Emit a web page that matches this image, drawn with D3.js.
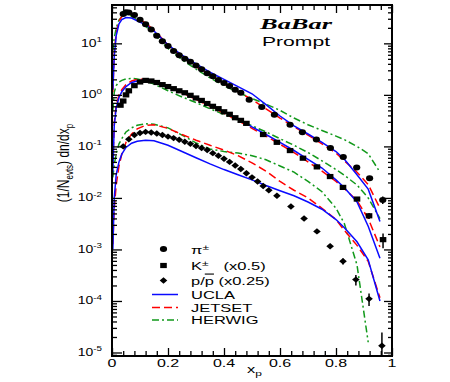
<!DOCTYPE html>
<html><head><meta charset="utf-8">
<script src="https://cdn.jsdelivr.net/npm/d3@7/dist/d3.min.js"></script>
<style>body{margin:0;background:#fff}svg{display:block}</style>
</head><body><svg id="c" width="450" height="382"></svg>
<script>
// ---------- data (values as plotted; K scaled x0.5, p scaled x0.25) ----------
const pionX = [0.04,0.05,0.06,0.08,0.10,0.12,0.14,0.16,0.18,0.20,0.22,0.24,0.26,0.28,0.30,0.32,0.34,0.36,0.38,0.40,0.42,0.44,0.46,0.49,0.535,0.58,0.636,0.68,0.73,0.78,0.826,0.874,0.92,0.967];
const pionY = [37.2,40,39.8,35.5,28.8,23.4,18.6,14.1,11.0,8.9,7.1,5.9,5.0,4.4,3.7,3.16,2.63,2.29,1.95,1.70,1.48,1.26,1.10,0.80,0.58,0.41,0.263,0.188,0.136,0.093,0.062,0.039,0.024,0.0091];
const pionErr = [0,0,0,0,0,0,0,0,0,0,0,0,0,0,0,0,0,0,0,0,0,0,0,0,0,0,0,0,0,0,0,0.002,0.002,0.0015];

const kaonX = [0.03,0.04,0.05,0.06,0.08,0.10,0.12,0.14,0.16,0.18,0.20,0.22,0.24,0.26,0.28,0.30,0.32,0.34,0.36,0.38,0.40,0.42,0.44,0.46,0.48,0.54,0.589,0.636,0.682,0.732,0.779,0.825,0.875,0.918,0.968];
const kaonY = [0.63,0.76,1.0,1.2,1.51,1.78,1.91,1.86,1.74,1.58,1.45,1.32,1.20,1.10,0.98,0.87,0.78,0.68,0.60,0.54,0.47,0.42,0.36,0.32,0.28,0.17,0.12,0.083,0.059,0.040,0.026,0.016,0.0095,0.0045,0.00155];
const kaonErr = [0,0,0,0,0,0,0,0,0,0,0,0,0,0,0,0,0,0,0,0,0,0,0,0,0,0,0,0,0,0,0,0,0,0.0006,0.0005];

const protonX = [0.04,0.06,0.08,0.10,0.12,0.14,0.16,0.18,0.20,0.22,0.24,0.26,0.28,0.30,0.32,0.34,0.36,0.38,0.40,0.42,0.44,0.46,0.48,0.50,0.52,0.54,0.56,0.589,0.639,0.686,0.732,0.779,0.825,0.871,0.918,0.964];
const protonY = [0.100,0.138,0.166,0.182,0.191,0.186,0.178,0.166,0.155,0.145,0.135,0.123,0.112,0.102,0.093,0.085,0.074,0.066,0.0575,0.050,0.0427,0.0363,0.0302,0.0251,0.0209,0.0170,0.0141,0.011,0.0068,0.0040,0.00224,0.00115,0.00059,0.00026,0.00011,0.0000135];
const protonErr = [0,0,0,0,0,0,0,0,0,0,0,0,0,0,0,0,0,0,0,0,0,0,0,0,0,0,0,0,0,0,0,0,0.00008,0.00006,0.00003,0.000011];

// model curves, shared x grid
const curveX = [0.003,0.008,0.015,0.025,0.035,0.05,0.07,0.09,0.12,0.15,0.2,0.25,0.3,0.35,0.4,0.45,0.5,0.55,0.6,0.65,0.7,0.75,0.8,0.83,0.875,0.915,0.957];
const pionUCLA    = [1.26,5.62,14.1,24.0,28.8,31.6,30.9,27.5,22.9,17.4,9.33,5.89,3.98,2.75,2.0,1.45,1.05,0.646,0.389,0.251,0.174,0.120,0.0794,0.0562,0.0282,0.0148,0.00347];
const pionJETSET  = [1.12,6.31,15.8,26.9,33.1,37.2,36.3,31.6,24.5,18.2,9.33,5.50,3.55,2.40,1.62,1.15,0.813,0.537,0.355,0.240,0.166,0.112,0.0741,0.0525,0.0316,0.0182,0.0063];
const pionHERWIG  = [7.08,12.6,20.0,28.2,33.1,36.3,33.9,28.8,21.4,15.1,7.94,4.79,3.16,2.14,1.51,1.12,0.851,0.661,0.501,0.355,0.263,0.204,0.158,0.135,0.100,0.0724,0.0316];
const kaonUCLA    = [0.0316,0.251,0.562,0.891,1.15,1.45,1.74,1.86,1.95,1.86,1.48,1.12,0.851,0.631,0.468,0.347,0.240,0.170,0.120,0.0832,0.0562,0.0380,0.0224,0.0158,0.00832,0.00282,0.000676];
const kaonJETSET  = [0.0501,0.282,0.631,1.0,1.26,1.58,1.86,2.0,2.0,1.86,1.45,1.10,0.813,0.603,0.437,0.316,0.224,0.158,0.110,0.0759,0.0501,0.0331,0.0209,0.0151,0.00891,0.00398,0.00112];
const kaonHERWIG  = [0.501,1.12,1.51,1.78,1.91,2.04,2.09,2.04,1.86,1.62,1.20,0.912,0.708,0.537,0.417,0.324,0.251,0.191,0.141,0.105,0.0759,0.0525,0.0355,0.0275,0.0178,0.0100,0.00398];
const protonUCLA  = [0.001,0.01,0.0282,0.0501,0.0708,0.0955,0.115,0.126,0.132,0.129,0.105,0.0794,0.0603,0.0457,0.0355,0.0282,0.0224,0.0174,0.0138,0.0110,0.00832,0.00603,0.00380,0.00263,0.00141,0.000631,0.0001];
const protonJETSET= [0.00126,0.00631,0.0178,0.0417,0.0708,0.120,0.174,0.219,0.257,0.263,0.224,0.170,0.132,0.105,0.0851,0.0661,0.0479,0.0331,0.0209,0.0141,0.0100,0.00631,0.00380,0.00234,0.00120,0.000589,0.000115];
const protonHERWIG= [0.0251,0.0447,0.0708,0.112,0.141,0.191,0.229,0.257,0.275,0.269,0.229,0.166,0.117,0.0891,0.0794,0.0741,0.0661,0.0550,0.0417,0.0316,0.0209,0.0132,0.00631,0.00316,0.000501,0.0000158,null];

const xTickLabels = ["0","0.2","0.4","0.6","0.8","1"];
const yTickExps = [1,0,-1,-2,-3,-4,-5];
const legendData = ["\u03C0", "K", "p/"];
const modelNames = ["UCLA","JETSET","HERWIG"];

// ---------- drawing ----------
const svg = d3.select("#c");
const FONT = "'Liberation Sans', Arial, Helvetica, sans-serif";
const SX = 1.5;
const L = 112, R = 392, T = 5, B = 356;
const x = d3.scaleLinear().domain([0,1]).range([L,R]);
const y = d3.scaleLog().domain([8.55e-6,55.5]).range([B,T]);

svg.append("defs").append("clipPath").attr("id","clip")
  .append("rect").attr("x",L).attr("y",T).attr("width",R-L).attr("height",B-T);
const plot = svg.append("g").attr("clip-path","url(#clip)");

const styles = {
  UCLA:   {color:"#0a0aff", dash:null},
  JETSET: {color:"#ff0000", dash:"8,4"},
  HERWIG: {color:"#11991a", dash:"7,3,2,3"}
};
const models = [
  {name:"HERWIG", series:[pionHERWIG,kaonHERWIG,protonHERWIG]},
  {name:"JETSET", series:[pionJETSET,kaonJETSET,protonJETSET]},
  {name:"UCLA",   series:[pionUCLA,kaonUCLA,protonUCLA]}
];
const line = d3.line().defined(d => d[1] != null).x(d => x(d[0])).y(d => y(d[1]));
models.forEach(m => {
  m.series.forEach(s => {
    plot.append("path")
      .datum(curveX.map((xv,i) => [xv, s[i]]))
      .attr("d", line).attr("fill","none")
      .attr("stroke", styles[m.name].color).attr("stroke-width",1.5)
      .attr("stroke-dasharray", styles[m.name].dash);
  });
});

function marker(sel, type, cx, cy) {
  if (type === "circle") {
    sel.append("ellipse").attr("cx",cx).attr("cy",cy).attr("rx",3.6).attr("ry",3).attr("fill","#000");
  } else if (type === "square") {
    sel.append("rect").attr("x",cx-3.3).attr("y",cy-2.6).attr("width",6.6).attr("height",5.2).attr("fill","#000");
  } else {
    sel.append("path").attr("d",`M${cx},${cy-3.2}L${cx+3.8},${cy}L${cx},${cy+3.2}L${cx-3.8},${cy}Z`).attr("fill","#000");
  }
}
const species = [
  {X:pionX, Y:pionY, E:pionErr, type:"circle"},
  {X:kaonX, Y:kaonY, E:kaonErr, type:"square"},
  {X:protonX, Y:protonY, E:protonErr, type:"diamond"}
];
species.forEach(sp => {
  sp.X.forEach((xv,i) => {
    const v = sp.Y[i], e = sp.E[i];
    if (e > 0) {
      const lo = Math.max(v - e, 1e-7);
      plot.append("line").attr("x1",x(xv)).attr("x2",x(xv))
        .attr("y1",y(v+e)).attr("y2",y(lo)).attr("stroke","#000").attr("stroke-width",1.5);
    }
    marker(plot, sp.type, x(xv), y(v));
  });
});

// ---------- axes ----------
const yMajor = yTickExps.map(e => Math.pow(10,e));
const yMinor = [];
for (let e = -6; e <= 1; e++) for (let m = 2; m <= 9; m++) {
  const v = m*Math.pow(10,e);
  if (v > 8.55e-6 && v < 55.5) yMinor.push(v);
}
const xMajor = [0,0.2,0.4,0.6,0.8,1];
const xMinor = d3.range(0,1.0001,0.04).filter(v => Math.abs(v/0.2 - Math.round(v/0.2)) > 1e-6);

function addAxis(axis, tr) {
  svg.append("g").attr("transform",tr).call(axis.tickFormat(""))
    .call(g => g.select(".domain").remove())
    .call(g => g.selectAll("line").attr("stroke","#000").attr("stroke-width",1.3));
}
addAxis(d3.axisRight(y).tickValues(yMinor).tickSize(5), `translate(${L},0)`);
addAxis(d3.axisRight(y).tickValues(yMajor).tickSize(10), `translate(${L},0)`);
addAxis(d3.axisLeft(y).tickValues(yMinor).tickSize(4), `translate(${R},0)`);
addAxis(d3.axisLeft(y).tickValues(yMajor).tickSize(8), `translate(${R},0)`);
addAxis(d3.axisTop(x).tickValues(xMinor).tickSize(5), `translate(0,${B})`);
addAxis(d3.axisTop(x).tickValues(xMajor).tickSize(8), `translate(0,${B})`);
addAxis(d3.axisBottom(x).tickValues(xMinor).tickSize(5), `translate(0,${T})`);
addAxis(d3.axisBottom(x).tickValues(xMajor).tickSize(8), `translate(0,${T})`);

svg.append("rect").attr("x",L).attr("y",T).attr("width",R-L).attr("height",B-T)
  .attr("fill","none").attr("stroke","#000").attr("stroke-width",2);

// y tick labels
yTickExps.forEach(e => {
  const t = svg.append("text")
    .attr("transform",`translate(102,${y(Math.pow(10,e))+3.5}) scale(1.4,1)`)
    .attr("text-anchor","end").attr("font-family",FONT).attr("font-size",10).attr("fill","#000");
  t.append("tspan").text("10");
  t.append("tspan").attr("font-size",7).attr("dy",-4.5).text(String(e));
});
// x tick labels
xMajor.forEach((v,i) => {
  svg.append("text").attr("transform",`translate(${x(v)},367) scale(1.6,1)`)
    .attr("text-anchor","middle").attr("font-family",FONT).attr("font-size",10).text(xTickLabels[i]);
});

// axis titles
const xt = svg.append("text").attr("transform","translate(247,373) scale(1.5,1)")
  .attr("font-family",FONT).attr("font-size",11);
xt.append("tspan").text("x");
xt.append("tspan").attr("font-size",8).attr("dy",3).text("p");

const yt = svg.append("text").attr("transform","translate(69,163) rotate(-90) scale(1,1.3)")
  .attr("text-anchor","middle").attr("font-family",FONT).attr("font-size",12);
yt.append("tspan").text("(1/N");
yt.append("tspan").attr("font-size",8).attr("dy",3).text("evts");
yt.append("tspan").attr("dy",-3).text(") dn/dx");
yt.append("tspan").attr("font-size",8).attr("dy",3).text("p");

// header
svg.append("text").attr("x",260).attr("y",29)
  .attr("font-family","'Liberation Serif','Times New Roman',serif").attr("font-weight","bold")
  .attr("font-style","italic").attr("font-size",15).attr("textLength",72)
  .attr("lengthAdjust","spacingAndGlyphs").text("BaBar");
svg.append("text").attr("x",262).attr("y",45.5).attr("font-family",FONT)
  .attr("font-size",13).attr("textLength",68).attr("lengthAdjust","spacingAndGlyphs").text("Prompt");

// legend
const leg = svg.append("g");
const mk = [["circle",249],["square",265.5],["diamond",280.5]];
mk.forEach(([t,cy]) => marker(leg, t, 163.5, cy));
function legText(yb) {
  return leg.append("text").attr("transform",`translate(191,${yb}) scale(${SX},1)`)
    .attr("font-family",FONT).attr("font-size",11).attr("fill","#000");
}
let t1 = legText(253.5);
t1.append("tspan").text(legendData[0]);
t1.append("tspan").attr("font-size",8).attr("dy",-4).text("\u00B1");
let t2 = legText(270);
t2.append("tspan").text(legendData[1]);
t2.append("tspan").attr("font-size",8).attr("dy",-4).text("\u00B1");
t2.append("tspan").attr("dy",4).attr("dx",10).text("(x0.5)");
let t3 = legText(284.5);
t3.append("tspan").text(legendData[2]);
t3.append("tspan").attr("text-decoration","overline").text("p");
t3.append("tspan").attr("dx",3).text("(x0.25)");

const lineY = [294.5,307.5,320];
modelNames.forEach((n,i) => {
  leg.append("line").attr("x1",152).attr("x2",178).attr("y1",lineY[i]).attr("y2",lineY[i])
    .attr("stroke",styles[n].color).attr("stroke-width",1.5).attr("stroke-dasharray",styles[n].dash);
  legText(lineY[i]+4).text(n);
});
</script>
</body></html>
